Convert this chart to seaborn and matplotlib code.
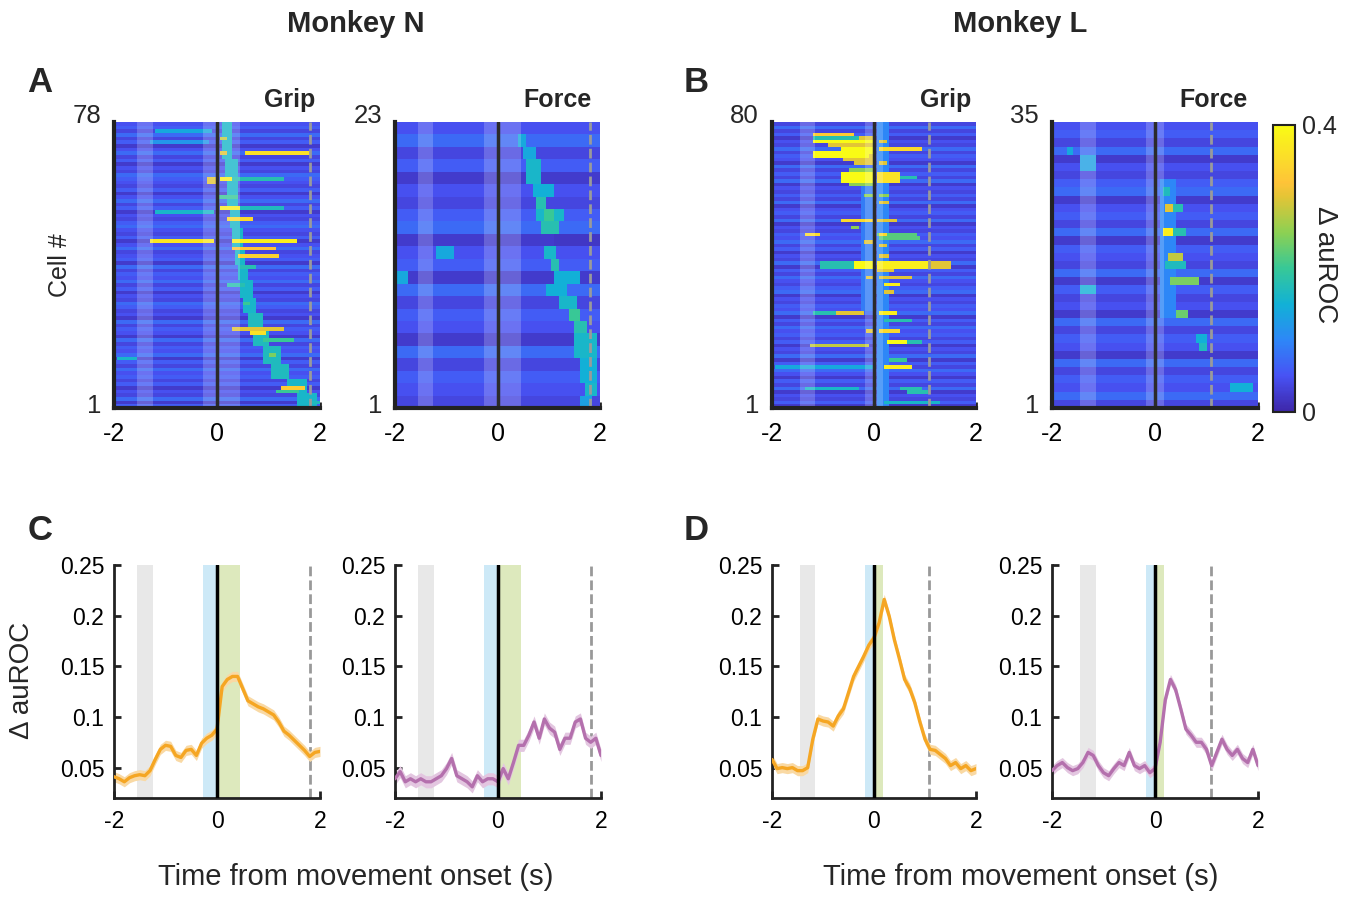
import numpy as np
import pandas as pd
import matplotlib
matplotlib.use("Agg")
import matplotlib.pyplot as plt
import seaborn as sns
from matplotlib.colors import LinearSegmentedColormap

sns.set_theme(style="white")
plt.rcParams['font.family'] = ['Liberation Sans', 'DejaVu Sans']
plt.rcParams['axes.edgecolor'] = '#222222'

# ---------------- data ----------------
T_LINE = np.round(np.arange(-2.0, 2.0001, 0.1), 2)

N_GRIP = np.array([0.041, 0.039, 0.036, 0.040, 0.042, 0.043, 0.042, 0.047, 0.058, 0.068,
                   0.072, 0.071, 0.062, 0.060, 0.067, 0.068, 0.062, 0.074, 0.079, 0.082,
                   0.088, 0.130, 0.137, 0.140, 0.140, 0.128, 0.116, 0.113, 0.110, 0.108,
                   0.105, 0.102, 0.095, 0.086, 0.082, 0.077, 0.072, 0.067, 0.061, 0.065, 0.066])
N_FORCE = np.array([0.039, 0.046, 0.036, 0.039, 0.036, 0.039, 0.036, 0.036, 0.039, 0.042,
                    0.049, 0.059, 0.042, 0.039, 0.036, 0.031, 0.042, 0.036, 0.039, 0.039,
                    0.036, 0.049, 0.039, 0.055, 0.072, 0.072, 0.082, 0.095, 0.079, 0.098,
                    0.089, 0.085, 0.068, 0.079, 0.079, 0.095, 0.098, 0.079, 0.075, 0.079, 0.062])
L_GRIP = np.array([0.058, 0.049, 0.050, 0.049, 0.050, 0.047, 0.047, 0.050, 0.078, 0.098,
                   0.096, 0.095, 0.091, 0.101, 0.108, 0.124, 0.140, 0.150, 0.160, 0.171,
                   0.178, 0.193, 0.216, 0.199, 0.176, 0.157, 0.137, 0.128, 0.114, 0.095,
                   0.078, 0.068, 0.067, 0.063, 0.059, 0.052, 0.055, 0.049, 0.052, 0.047, 0.049])
L_FORCE = np.array([0.047, 0.052, 0.055, 0.050, 0.047, 0.049, 0.055, 0.065, 0.062, 0.052,
                    0.045, 0.042, 0.049, 0.055, 0.052, 0.065, 0.052, 0.049, 0.052, 0.045,
                    0.049, 0.075, 0.117, 0.137, 0.127, 0.108, 0.088, 0.082, 0.075, 0.075,
                    0.068, 0.052, 0.065, 0.078, 0.068, 0.062, 0.068, 0.059, 0.055, 0.068, 0.052])
SEM_N_GRIP, SEM_N_FORCE, SEM_L_GRIP, SEM_L_FORCE = 0.005, 0.006, 0.005, 0.005

# epochs (gray, blue, green) and dashed-line times
EPOCHS_N = [(-1.55, -1.25), (-0.27, 0.0), (0.0, 0.45)]
EPOCHS_L = [(-1.45, -1.15), (-0.18, 0.0), (0.0, 0.18)]
DASH_N, DASH_L = 1.8, 1.08

# heatmaps: background level per row (top row first, digit*0.012) + streaks
ROWS_N_GRIP = ("4536352463" "5243654352" "4635243564" "3524634526"
               "3546352436" "5342635426" "3546253645" "35243625")
ROWS_N_FORCE = "46352435624" "52635426354" "3"
ROWS_L_GRIP = ("3635243635" "4263536243" "5362453624" "3546352436"
               "2536435624" "3546253645" "3524362536" "4253624352")
ROWS_L_FORCE = "4536243562" "4536254362" "5342635426" "35463"

# (cell_lo, cell_hi, t_start, t_end, value)
STREAKS_N_GRIP = [
    (74, 78, 0.08, 0.28, 0.16), (69, 73, 0.12, 0.32, 0.16), (63, 68, 0.15, 0.38, 0.16),
    (56, 62, 0.2, 0.42, 0.16), (50, 55, 0.25, 0.45, 0.16), (45, 49, 0.3, 0.5, 0.16),
    (40, 44, 0.35, 0.55, 0.16), (36, 39, 0.4, 0.6, 0.16), (31, 35, 0.45, 0.68, 0.16),
    (27, 30, 0.5, 0.75, 0.16), (22, 26, 0.6, 0.9, 0.17), (18, 21, 0.7, 1.0, 0.17),
    (13, 17, 0.9, 1.25, 0.17), (9, 12, 1.05, 1.4, 0.17), (5, 8, 1.35, 1.75, 0.16),
    (1, 4, 1.55, 1.95, 0.16),
    (76, 76, -1.2, -0.1, 0.14), (74, 74, 0.05, 0.2, 0.28), (73, 73, -1.3, -0.15, 0.12),
    (70, 70, 0.05, 0.2, 0.30), (70, 70, 0.55, 1.8, 0.36), (63, 63, 0.3, 1.3, 0.18),
    (63, 63, 0.05, 0.3, 0.38), (62, 63, -0.2, 0.0, 0.30), (58, 58, 0.0, 0.4, 0.2),
    (55, 55, 0.45, 1.3, 0.17), (55, 55, 0.05, 0.45, 0.38), (54, 54, -1.2, -0.05, 0.16),
    (52, 52, 0.22, 0.7, 0.35), (46, 46, -1.3, -0.04, 0.37), (46, 46, 0.28, 1.55, 0.38),
    (44, 44, 0.28, 1.15, 0.32), (42, 42, 0.38, 1.22, 0.34), (39, 39, 0.45, 0.75, 0.18),
    (34, 34, 0.18, 0.55, 0.18), (29, 29, 0.5, 0.65, 0.2), (22, 22, 0.32, 1.3, 0.30),
    (21, 21, 0.65, 0.95, 0.36), (19, 19, 0.9, 1.5, 0.2), (15, 15, 1.0, 1.15, 0.24),
    (14, 14, -1.95, -1.55, 0.16), (6, 6, 1.25, 1.7, 0.33), (5, 5, 1.15, 1.6, 0.2),
    (2, 2, 1.8, 2.0, 0.17)]
STREAKS_N_FORCE = [
    (22, 22, 0.38, 0.57, 0.14), (21, 21, 0.5, 0.76, 0.14), (19, 20, 0.57, 0.83, 0.16),
    (18, 18, 0.7, 1.09, 0.15), (17, 17, 0.76, 0.96, 0.18), (16, 16, 0.76, 1.28, 0.16),
    (16, 16, 0.9, 1.09, 0.2), (15, 15, 0.83, 1.22, 0.18), (14, 14, 1.1, 2.0, 0.02),
    (13, 13, 0.9, 1.15, 0.16), (13, 13, -1.2, -0.85, 0.14), (12, 12, 1.03, 1.22, 0.18),
    (11, 11, 1.1, 1.6, 0.15), (11, 11, -2.0, -1.77, 0.14), (10, 10, 0.95, 1.35, 0.15),
    (9, 9, 1.22, 1.55, 0.16), (8, 8, 1.4, 1.6, 0.2), (7, 7, 1.48, 1.74, 0.18),
    (5, 6, 1.48, 1.94, 0.16), (3, 4, 1.6, 1.94, 0.15), (2, 2, 1.68, 1.94, 0.16),
    (1, 1, 1.6, 1.87, 0.13)]
STREAKS_L_GRIP = [
    (1, 80, 0.05, 0.3, 0.1), (28, 62, -0.25, 0.0, 0.09), (70, 76, -0.6, 0.0, 0.3),
    (63, 67, -0.5, 0.0, 0.25),
    (77, 77, -1.19, -0.41, 0.33), (76, 76, -1.19, -0.3, 0.18), (75, 75, -1.19, 0.0, 0.40),
    (75, 75, 0.11, 0.25, 0.30), (74, 74, -0.9, -0.1, 0.3), (73, 73, -0.67, 0.0, 0.40),
    (73, 73, 0.11, 0.97, 0.35), (72, 72, -1.19, 0.0, 0.40), (71, 71, -1.19, -0.08, 0.40),
    (70, 70, -0.5, -0.1, 0.3), (69, 69, -0.41, 0.0, 0.30), (69, 69, 0.11, 0.25, 0.30),
    (67, 67, -0.3, 0.0, 0.25), (64, 66, -0.67, 0.0, 0.40), (64, 66, 0.05, 0.51, 0.36),
    (65, 65, 0.51, 0.83, 0.18), (60, 60, -0.21, 0.0, 0.25), (60, 60, 0.11, 0.31, 0.25),
    (58, 58, 0.11, 0.31, 0.30), (53, 53, -0.64, 0.0, 0.35), (53, 53, 0.05, 0.44, 0.30),
    (51, 51, -0.47, -0.28, 0.25), (49, 49, -1.33, -1.06, 0.35), (49, 49, 0.05, 0.83, 0.22),
    (49, 49, 0.11, 0.25, 0.35), (48, 48, 0.11, 0.9, 0.22), (47, 47, -0.21, 0.0, 0.30),
    (46, 46, 0.11, 0.25, 0.30), (43, 43, 0.11, 0.31, 0.30), (40, 41, -1.06, -0.41, 0.18),
    (40, 41, -0.41, 0.0, 0.40), (40, 41, 0.05, 1.03, 0.38), (40, 41, 1.03, 1.49, 0.30),
    (39, 39, 0.05, 0.38, 0.30), (37, 37, -0.15, 0.0, 0.30), (37, 37, 0.11, 0.77, 0.30),
    (35, 35, 0.18, 0.51, 0.38), (33, 33, 0.18, 0.38, 0.30), (27, 27, -1.19, -0.74, 0.18),
    (27, 27, -0.74, -0.21, 0.30), (27, 27, 0.11, 0.44, 0.38), (25, 25, 0.18, 0.77, 0.18),
    (22, 22, -0.15, 0.0, 0.30), (22, 22, 0.11, 0.51, 0.35), (19, 19, 0.64, 0.97, 0.18),
    (19, 19, 0.25, 0.64, 0.40), (18, 18, -1.26, -0.08, 0.28), (14, 14, 0.31, 0.64, 0.2),
    (12, 12, -1.95, -0.02, 0.14), (12, 12, 0.18, 0.77, 0.38), (6, 6, -1.33, -0.28, 0.16),
    (6, 6, 0.51, 0.97, 0.18), (5, 5, 0.64, 1.03, 0.18), (2, 2, 0.18, 1.29, 0.16)]
STREAKS_L_FORCE = [
    (12, 28, 0.09, 0.4, 0.1), (32, 32, -1.69, -1.59, 0.14), (30, 31, -1.46, -1.17, 0.13),
    (27, 27, 0.16, 0.28, 0.17), (25, 25, 0.35, 0.54, 0.18), (25, 25, 0.19, 0.35, 0.30),
    (22, 22, 0.35, 0.61, 0.18), (22, 22, 0.14, 0.35, 0.38), (19, 19, 0.25, 0.54, 0.28),
    (18, 18, 0.22, 0.61, 0.17), (16, 16, 0.28, 0.87, 0.24), (15, 15, -1.46, -1.14, 0.15),
    (12, 12, 0.38, 0.67, 0.23), (9, 9, 0.8, 1.0, 0.15), (8, 8, 0.87, 1.0, 0.17),
    (3, 3, 1.45, 1.9, 0.15)]

# ---------------- style ----------------
PARULA = LinearSegmentedColormap.from_list("parula", [
    (0.0, (0.2422, 0.1504, 0.6603)), (0.125, (0.2810, 0.3228, 0.9579)),
    (0.25, (0.1786, 0.5289, 0.9682)), (0.375, (0.0689, 0.6948, 0.8394)),
    (0.5, (0.2161, 0.7843, 0.5923)), (0.625, (0.5470, 0.8172, 0.3262)),
    (0.75, (0.8886, 0.7714, 0.2114)), (0.8, (0.9970, 0.7659, 0.2199)),
    (0.875, (0.9856, 0.8532, 0.1722)), (1.0, (0.9769, 0.9839, 0.0805))])
EPOCH_COLORS = ['#e8e8e8', '#cde9f7', '#dde9bd']
ORANGE, ORANGE_F = '#f5a623', '#f9d9a4'
PURPLE, PURPLE_F = '#b470ad', '#e3c6e0'
DT, NCOL = 0.05, 80

W, H = 1355, 901
fig = plt.figure(figsize=(W / 100, H / 100), dpi=100)


def fr(l, t, w, h):
    return [l / W, 1 - (t + h) / H, w / W, h / H]


def build(rowstr, streaks):
    n = len(rowstr)
    base = np.array([int(c) for c in rowstr]) * 0.012
    M = np.repeat(base[:, None], NCOL, axis=1)
    for lo, hi, t0, t1, v in streaks:
        c0 = int(round((t0 + 2) / DT))
        c1 = max(int(round((t1 + 2) / DT)), c0 + 1)
        M[n - hi:n - lo + 1, c0:c1] = v
    return M


def draw_heat(rect, rowstr, streaks, title, tx, epochs, dash, cax=None):
    n = len(rowstr)
    M = build(rowstr, streaks)
    ax = fig.add_axes(fr(*rect))
    sns.heatmap(pd.DataFrame(M), ax=ax, cmap=PARULA, vmin=0, vmax=0.4,
                cbar=cax is not None, cbar_ax=cax, xticklabels=False, yticklabels=False)
    col = lambda t: (t + 2) / DT
    for t0, t1 in epochs:
        ax.axvspan(col(t0), col(t1), color='white', alpha=0.2, lw=0)
    ax.axvline(col(0), color='#2b2b2b', lw=2.5)
    ax.axvline(col(dash), color='#9a9a9a', lw=2, ls=(0, (3.5, 1.5)))
    for s in ['left', 'bottom']:
        ax.spines[s].set_visible(True)
        ax.spines[s].set_linewidth(3)
        ax.spines[s].set_color('#222222')
    ax.set_xticks([0, 40, 80])
    ax.set_xticklabels(['-2', '0', '2'], fontsize=18, rotation=0)
    ax.tick_params(axis='x', direction='in', length=4, width=2, pad=10, bottom=True,
                   colors='#222222', labelcolor='black')
    ax.set_yticks([])
    off = -13 / rect[2]
    ax.text(off, 1.021, str(n), transform=ax.transAxes, ha='right', va='center', fontsize=18.5)
    ax.text(off, 0.006, '1', transform=ax.transAxes, ha='right', va='center', fontsize=18.5)
    ax.text(tx, 1.052, title, transform=ax.transAxes, ha='right', va='baseline',
            fontsize=18, fontweight='bold')
    return ax


def draw_line(rect, vals, sem, color, fill, epochs, dash):
    ax = fig.add_axes(fr(*rect))
    for (t0, t1), c in zip(epochs, EPOCH_COLORS):
        ax.axvspan(t0, t1, color=c, lw=0, zorder=0)
    ax.axvline(dash, color='#999999', lw=2, ls=(0, (3.5, 1.5)), zorder=1)
    ax.fill_between(T_LINE, vals - sem, vals + sem, color=fill, lw=0, zorder=2)
    sns.lineplot(x=T_LINE, y=vals, ax=ax, color=color, lw=2.4, zorder=3)
    ax.axvline(0, color='black', lw=2.5, zorder=4)
    ax.set_xlim(-2, 2)
    ax.set_ylim(0.02, 0.25)
    sns.despine(ax=ax)
    for s in ['left', 'bottom']:
        ax.spines[s].set_linewidth(2)
        ax.spines[s].set_color('#222222')
    ax.set_xticks([-2, 0, 2])
    ax.set_xticklabels(['-2', '0', '2'])
    ax.set_yticks([0.05, 0.1, 0.15, 0.2, 0.25])
    ax.set_yticklabels(['0.05', '0.1', '0.15', '0.2', '0.25'])
    ax.tick_params(direction='in', length=5, width=2, labelsize=16.5, pad=7,
                   bottom=True, left=True, colors='#222222', labelcolor='black')
    ax.tick_params(axis='x', pad=9)
    ax.set_xlabel('')
    ax.set_ylabel('')
    return ax


# heatmaps
draw_heat((114, 122, 206, 286), ROWS_N_GRIP, STREAKS_N_GRIP, 'Grip', 0.976, EPOCHS_N, DASH_N)
draw_heat((395, 122, 205, 286), ROWS_N_FORCE, STREAKS_N_FORCE, 'Force', 0.961, EPOCHS_N, DASH_N)
draw_heat((772, 122, 204, 286), ROWS_L_GRIP, STREAKS_L_GRIP, 'Grip', 0.975, EPOCHS_L, DASH_L)
cax = fig.add_axes(fr(1273, 125, 22, 287))
draw_heat((1052, 122, 206, 286), ROWS_L_FORCE, STREAKS_L_FORCE, 'Force', 0.951, EPOCHS_L, DASH_L, cax=cax)
cb = fig.axes[-1].collections[0].colorbar
cb.set_ticks([0, 0.4])
cb.set_ticklabels(['0', '0.4'])
cb.ax.tick_params(labelsize=18, length=0, pad=5)
cb.outline.set_visible(True)
cb.outline.set_edgecolor('#222222')
cb.outline.set_linewidth(1.5)

# line plots
draw_line((114, 565, 206, 233), N_GRIP, SEM_N_GRIP, ORANGE, ORANGE_F, EPOCHS_N, DASH_N)
draw_line((395, 565, 206, 233), N_FORCE, SEM_N_FORCE, PURPLE, PURPLE_F, EPOCHS_N, DASH_N)
draw_line((772, 565, 204, 233), L_GRIP, SEM_L_GRIP, ORANGE, ORANGE_F, EPOCHS_L, DASH_L)
draw_line((1052, 565, 206, 233), L_FORCE, SEM_L_FORCE, PURPLE, PURPLE_F, EPOCHS_L, DASH_L)


# figure texts
def ft(x, y, s, **kw):
    fig.text(x / W, 1 - y / H, s, ha=kw.pop('ha', 'center'), va=kw.pop('va', 'center'), **kw)


ft(356, 24, 'Monkey N', fontsize=21, fontweight='bold')
ft(1020, 24, 'Monkey L', fontsize=21, fontweight='bold')
for x, y, s in [(40, 83, 'A'), (696, 83, 'B'), (40, 530, 'C'), (696, 530, 'D')]:
    ft(x, y, s, fontsize=25, fontweight='bold')
ft(60, 265, 'Cell #', fontsize=18, rotation=90)
ft(1325, 265, 'Δ auROC', fontsize=20, rotation=270)
ft(22, 680, 'Δ auROC', fontsize=20, rotation=90)
ft(356, 877, 'Time from movement onset (s)', fontsize=21)
ft(1021, 877, 'Time from movement onset (s)', fontsize=21)

fig.savefig('out.png', dpi=100)
